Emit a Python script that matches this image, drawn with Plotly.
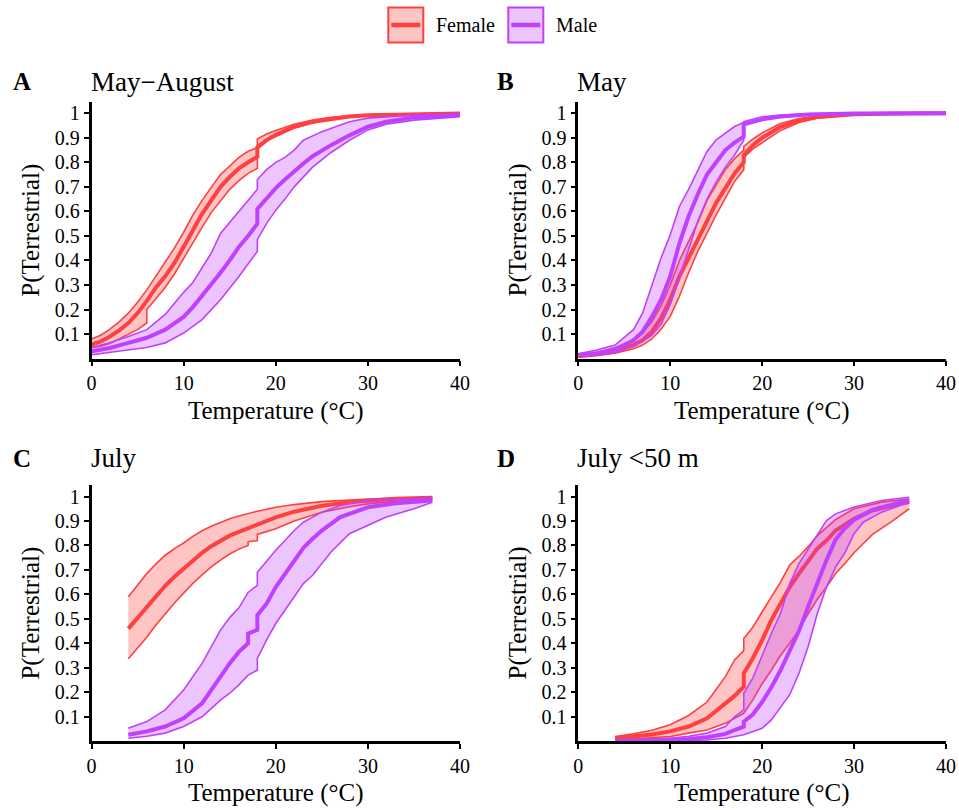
import plotly.graph_objects as go

# ---------------- data ----------------
# Panel A: May-August
AF_mean_x = [0,1,2,3,4,5,6,7,8,9,10,11,12,13,14,15,16,17,18,18,19,20,22,24,26,28,30,35,40]
AF_mean_y = [0.057,0.07,0.09,0.115,0.145,0.185,0.235,0.29,0.335,0.39,0.455,0.525,0.59,0.645,0.70,0.74,0.775,0.80,0.822,0.86,0.89,0.912,0.945,0.965,0.978,0.987,0.992,0.997,0.999]
AF_up_x = [0,1,2,3,4,5,6,7,8,9,10,11,12,13,14,15,16,17,18,18,19,20,22,24,26,28,30,35,40]
AF_up_y = [0.08,0.095,0.12,0.15,0.185,0.23,0.28,0.335,0.39,0.45,0.515,0.585,0.645,0.70,0.75,0.785,0.82,0.845,0.86,0.895,0.915,0.93,0.955,0.972,0.983,0.99,0.994,0.998,1.0]
AF_lo_x = [0,1,2,3,4,5,6,6,7,8,9,10,11,12,13,14,15,16,17,18,18,19,20,22,24,26,28,30,35,40]
AF_lo_y = [0.045,0.05,0.062,0.08,0.098,0.118,0.145,0.2,0.245,0.29,0.345,0.41,0.47,0.535,0.595,0.645,0.69,0.725,0.755,0.775,0.87,0.89,0.905,0.94,0.96,0.975,0.985,0.99,0.996,0.999]

AM_mean_x = [0,2,4,6,8,10,11,12,13,14,15,16,17,18,18,19,20,21,22,23,24,26,28,30,32,35,40]
AM_mean_y = [0.03,0.043,0.064,0.085,0.118,0.17,0.21,0.255,0.30,0.35,0.40,0.455,0.50,0.55,0.61,0.655,0.695,0.73,0.765,0.795,0.825,0.87,0.91,0.945,0.965,0.983,0.993]
AM_up_x = [0,2,4,6,8,10,11,12,13,14,15,16,17,18,18,19,20,21,22,23,25,28,30,35,40]
AM_up_y = [0.045,0.065,0.09,0.118,0.18,0.27,0.31,0.37,0.43,0.51,0.555,0.60,0.645,0.69,0.73,0.77,0.80,0.82,0.85,0.89,0.925,0.965,0.98,0.993,0.997]
AM_lo_x = [0,2,4,6,8,10,12,14,16,18,18,19,20,21,22,24,26,28,30,32,35,40]
AM_lo_y = [0.016,0.025,0.035,0.045,0.064,0.104,0.159,0.24,0.335,0.437,0.485,0.55,0.605,0.65,0.70,0.78,0.84,0.89,0.932,0.955,0.972,0.986]

# Panel B: May
BF_x = [0,2,4,6,7,8,9,10,11,12,13,14,15,16,17,18,18,19,20,22,24,26,30,35,40]
BF_mean_y = [0.01,0.018,0.03,0.055,0.075,0.11,0.165,0.24,0.335,0.41,0.485,0.565,0.635,0.695,0.755,0.80,0.83,0.87,0.90,0.945,0.97,0.985,0.996,0.999,1.0]
BF_up_y = [0.015,0.025,0.045,0.075,0.105,0.15,0.215,0.30,0.40,0.48,0.555,0.645,0.71,0.77,0.815,0.85,0.865,0.895,0.92,0.958,0.978,0.99,0.998,1.0,1.0]
BF_lo_y = [0.006,0.012,0.022,0.04,0.055,0.08,0.12,0.172,0.254,0.35,0.437,0.512,0.586,0.654,0.722,0.77,0.82,0.855,0.88,0.93,0.962,0.98,0.994,0.998,1.0]

BM_x = [0,2,4,6,7,8,9,10,11,12,13,14,15,16,17,18,18,20,22,25,30,40]
BM_mean_y = [0.015,0.022,0.035,0.075,0.11,0.17,0.24,0.335,0.47,0.58,0.67,0.75,0.80,0.85,0.88,0.905,0.955,0.975,0.987,0.995,0.999,1.0]
BM_up_y = [0.02,0.035,0.055,0.118,0.186,0.3,0.41,0.505,0.62,0.69,0.77,0.844,0.892,0.919,0.946,0.962,0.966,0.986,0.993,0.998,1.0,1.0]
BM_lo_y = [0.01,0.015,0.025,0.05,0.07,0.095,0.14,0.22,0.33,0.45,0.56,0.65,0.72,0.78,0.83,0.89,0.955,0.975,0.988,0.996,0.999,1.0]

# Panel C: July
CF_x = [4,5,6,7,8,9,10,11,12,13,14,15,16,17,18,20,22,25,28,30,33,37]
CF_mean_y = [0.46,0.505,0.55,0.595,0.635,0.672,0.705,0.74,0.77,0.797,0.82,0.84,0.855,0.87,0.885,0.915,0.938,0.962,0.977,0.984,0.991,0.995]
CF_up_y = [0.59,0.64,0.685,0.725,0.76,0.787,0.81,0.837,0.86,0.878,0.895,0.909,0.92,0.93,0.94,0.956,0.967,0.979,0.987,0.99,0.994,0.997]
CF_lo_x = [4,5,6,7,8,9,10,11,12,13,14,15,16,17,17,18,18,20,22,25,28,30,33,37]
CF_lo_y = [0.337,0.38,0.425,0.475,0.52,0.565,0.605,0.645,0.68,0.712,0.74,0.765,0.785,0.80,0.815,0.82,0.845,0.868,0.9,0.936,0.958,0.97,0.981,0.988]

CM_mean_x = [4,6,8,10,12,14,15,16,17,17,18,18,19,20,21,22,23,24,25,27,30,33,37]
CM_mean_y = [0.026,0.04,0.06,0.094,0.155,0.264,0.318,0.365,0.40,0.44,0.455,0.515,0.562,0.63,0.685,0.739,0.79,0.827,0.861,0.916,0.956,0.972,0.984]
CM_up_x = [4,6,8,10,12,14,15,16,17,18,18,20,22,23,25,27,30,33,37]
CM_up_y = [0.053,0.08,0.128,0.209,0.318,0.454,0.505,0.545,0.608,0.637,0.69,0.78,0.861,0.895,0.936,0.963,0.984,0.99,0.995]
CM_lo_x = [4,6,8,10,12,14,15,16,17,18,18,19,20,22,23,24,25,26,28,30,32,35,37]
CM_lo_y = [0.012,0.02,0.033,0.06,0.10,0.168,0.196,0.23,0.27,0.29,0.338,0.413,0.481,0.59,0.644,0.678,0.726,0.773,0.848,0.882,0.916,0.95,0.977]

# Panel D: July <50 m
DF_mean_x = [4,6,8,10,12,14,16,17,18,18,19,20,21,22,23,24,25,26,27,28,30,32,34,36]
DF_mean_y = [0.012,0.018,0.027,0.04,0.06,0.094,0.155,0.185,0.223,0.277,0.34,0.413,0.495,0.5625,0.63,0.685,0.739,0.787,0.82,0.861,0.909,0.943,0.962,0.977]
DF_up_x = [4,6,8,10,12,14,16,17,18,18,19,20,21,22,23,24,25,26,27,28,30,33,36]
DF_up_y = [0.019,0.03,0.045,0.067,0.105,0.16,0.264,0.332,0.37,0.42,0.467,0.53,0.59,0.65,0.72,0.755,0.795,0.84,0.875,0.906,0.95,0.977,0.99]
DF_lo_x = [4,6,8,10,12,14,16,18,19,20,21,22,23,24,25,26,27,28,29,30,32,34,36]
DF_lo_y = [0.005,0.01,0.014,0.019,0.033,0.046,0.073,0.114,0.17,0.235,0.29,0.35,0.40,0.454,0.52,0.58,0.63,0.685,0.726,0.77,0.845,0.895,0.95]

DM_mean_x = [4,8,10,12,14,16,17,18,18,19,20,21,22,23,24,25,26,27,28,29,30,32,36]
DM_mean_y = [0.001,0.003,0.005,0.009,0.016,0.03,0.045,0.06,0.08,0.11,0.16,0.22,0.29,0.37,0.45,0.55,0.65,0.74,0.825,0.87,0.905,0.945,0.985]
DM_up_x = [4,8,10,12,14,16,17,18,18,19,20,21,22,23,24,25,26,27,28,30,33,36]
DM_up_y = [0.001,0.006,0.012,0.02,0.033,0.06,0.1,0.128,0.196,0.26,0.35,0.44,0.522,0.644,0.726,0.785,0.84,0.902,0.929,0.957,0.984,0.997]
DM_lo_x = [4,10,14,16,18,20,21,22,23,24,25,26,27,28,29,30,31,33,36]
DM_lo_y = [0.0,0.001,0.005,0.012,0.026,0.053,0.087,0.141,0.19,0.277,0.386,0.522,0.63,0.712,0.77,0.848,0.895,0.936,0.977]

panel_letters = ["A", "B", "C", "D"]
panel_titles = ["May\u2212August", "May", "July", "July <50 m"]
sex_names = ["Female", "Male"]
x_ticks = [0, 10, 20, 30, 40]
y_tickvals = [0.1, 0.2, 0.3, 0.4, 0.5, 0.6, 0.7, 0.8, 0.9, 1.0]
y_ticktext = ["0.1", "0.2", "0.3", "0.4", "0.5", "0.6", "0.7", "0.8", "0.9", "1"]
x_title = "Temperature (\u00b0C)"
y_title = "P(Terrestrial)"

panels = [
    # (female: lo, up, mean), (male: lo, up, mean)
    (((AF_lo_x, AF_lo_y), (AF_up_x, AF_up_y), (AF_mean_x, AF_mean_y)),
     ((AM_lo_x, AM_lo_y), (AM_up_x, AM_up_y), (AM_mean_x, AM_mean_y))),
    (((BF_x, BF_lo_y), (BF_x, BF_up_y), (BF_x, BF_mean_y)),
     ((BM_x, BM_lo_y), (BM_x, BM_up_y), (BM_x, BM_mean_y))),
    (((CF_lo_x, CF_lo_y), (CF_x, CF_up_y), (CF_x, CF_mean_y)),
     ((CM_lo_x, CM_lo_y), (CM_up_x, CM_up_y), (CM_mean_x, CM_mean_y))),
    (((DF_lo_x, DF_lo_y), (DF_up_x, DF_up_y), (DF_mean_x, DF_mean_y)),
     ((DM_lo_x, DM_lo_y), (DM_up_x, DM_up_y), (DM_mean_x, DM_mean_y))),
]

# ---------------- style ----------------
FONT = "Liberation Serif, Times New Roman, serif"
LINE_COL = ["rgb(255,64,64)", "rgb(191,64,255)"]
FILL_COL = ["rgba(255,64,64,0.3)", "rgba(191,64,255,0.3)"]
W, H = 959, 810

# pixel geometry (in window pixels) of the plot areas
col_px = [(91.5, 460), (578.3, 946)]
row_px = [(101.7, 358.6), (485.0, 741.2)]

def px_x(p):
    return p / W

def px_y(p):
    return 1 - p / H

fig = go.Figure()
layout = dict(
    width=W, height=H,
    margin=dict(l=0, r=0, t=0, b=0),
    paper_bgcolor="white", plot_bgcolor="white",
    font=dict(family=FONT, size=20, color="black"),
    showlegend=False,
)
annotations = []
shapes = []

for i, panel in enumerate(panels):
    r, c = divmod(i, 2)
    sfx = "" if i == 0 else str(i + 1)
    xa, ya = "x" + sfx, "y" + sfx
    for s, (lo, up, mean) in enumerate(panel):
        fig.add_trace(go.Scatter(x=lo[0], y=lo[1], mode="lines", xaxis=xa, yaxis=ya,
                                 line=dict(color=LINE_COL[s], width=1.6), showlegend=False,
                                 hoverinfo="skip"))
        fig.add_trace(go.Scatter(x=up[0], y=up[1], mode="lines", xaxis=xa, yaxis=ya,
                                 line=dict(color=LINE_COL[s], width=1.6), fill="tonexty",
                                 fillcolor=FILL_COL[s], showlegend=False, hoverinfo="skip"))
        fig.add_trace(go.Scatter(x=mean[0], y=mean[1], mode="lines", xaxis=xa, yaxis=ya,
                                 line=dict(color=LINE_COL[s], width=4), showlegend=False,
                                 name=sex_names[s]))
    x0, x1 = col_px[c]
    y0, y1 = row_px[r]
    axis_common = dict(showline=True, linecolor="black", linewidth=2.5, ticks="outside",
                       ticklen=5, tickwidth=2, tickcolor="black", showgrid=False,
                       zeroline=False, automargin=False,
                       tickfont=dict(family=FONT, size=20, color="black"))
    layout["xaxis" + sfx] = dict(axis_common, domain=[px_x(x0), px_x(x1)], range=[0, 40],
                                 tickvals=x_ticks, anchor=ya)
    layout["yaxis" + sfx] = dict(axis_common, domain=[px_y(y1), px_y(y0)], range=[0, 1.047],
                                 tickvals=y_tickvals, ticktext=y_ticktext, anchor=xa)
    # panel letter + title
    letter_x = 10.5 if c == 0 else 494.5
    title_y = 82 if r == 0 else 458
    annotations.append(dict(text="<b>" + panel_letters[i] + "</b>", xref="paper", yref="paper",
                            x=px_x(letter_x), y=px_y(title_y), xanchor="left", yanchor="middle",
                            showarrow=False, font=dict(family=FONT, size=25)))
    annotations.append(dict(text=panel_titles[i], xref="paper", yref="paper",
                            x=px_x(x0 - 3), y=px_y(title_y), xanchor="left", yanchor="middle",
                            showarrow=False, font=dict(family=FONT, size=27)))
    # axis titles
    annotations.append(dict(text=x_title, xref="paper", yref="paper",
                            x=px_x((x0 + x1) / 2), y=px_y(y1 + 52), xanchor="center",
                            yanchor="middle", showarrow=False, font=dict(family=FONT, size=25)))
    annotations.append(dict(text=y_title, xref="paper", yref="paper", textangle=-90,
                            x=px_x(x0 - 60), y=px_y((y0 + y1) / 2), xanchor="center",
                            yanchor="middle", showarrow=False, font=dict(family=FONT, size=25)))

# legend (top centre): filled key box with a thick centre line, then the label
legend_key_x = [(388.3, 423.3), (508.3, 543.3)]
legend_key_y = (7.5, 42.5)
for s in range(2):
    kx0, kx1 = legend_key_x[s]
    shapes.append(dict(type="rect", xref="paper", yref="paper",
                       x0=px_x(kx0), x1=px_x(kx1), y0=px_y(legend_key_y[1]), y1=px_y(legend_key_y[0]),
                       fillcolor=FILL_COL[s], line=dict(color=LINE_COL[s], width=2)))
    ym = (legend_key_y[0] + legend_key_y[1]) / 2
    shapes.append(dict(type="line", xref="paper", yref="paper",
                       x0=px_x(kx0 + 3), x1=px_x(kx1 - 3), y0=px_y(ym), y1=px_y(ym),
                       line=dict(color=LINE_COL[s], width=4.5)))
    annotations.append(dict(text=sex_names[s], xref="paper", yref="paper",
                            x=px_x(kx1 + 11), y=px_y(ym), xanchor="left", yanchor="middle",
                            showarrow=False, font=dict(family=FONT, size=20)))

layout["annotations"] = annotations
layout["shapes"] = shapes
fig.update_layout(**layout)
fig.write_html("out.html", config={"displayModeBar": False},
               post_script="document.body.style.margin='0px';")
